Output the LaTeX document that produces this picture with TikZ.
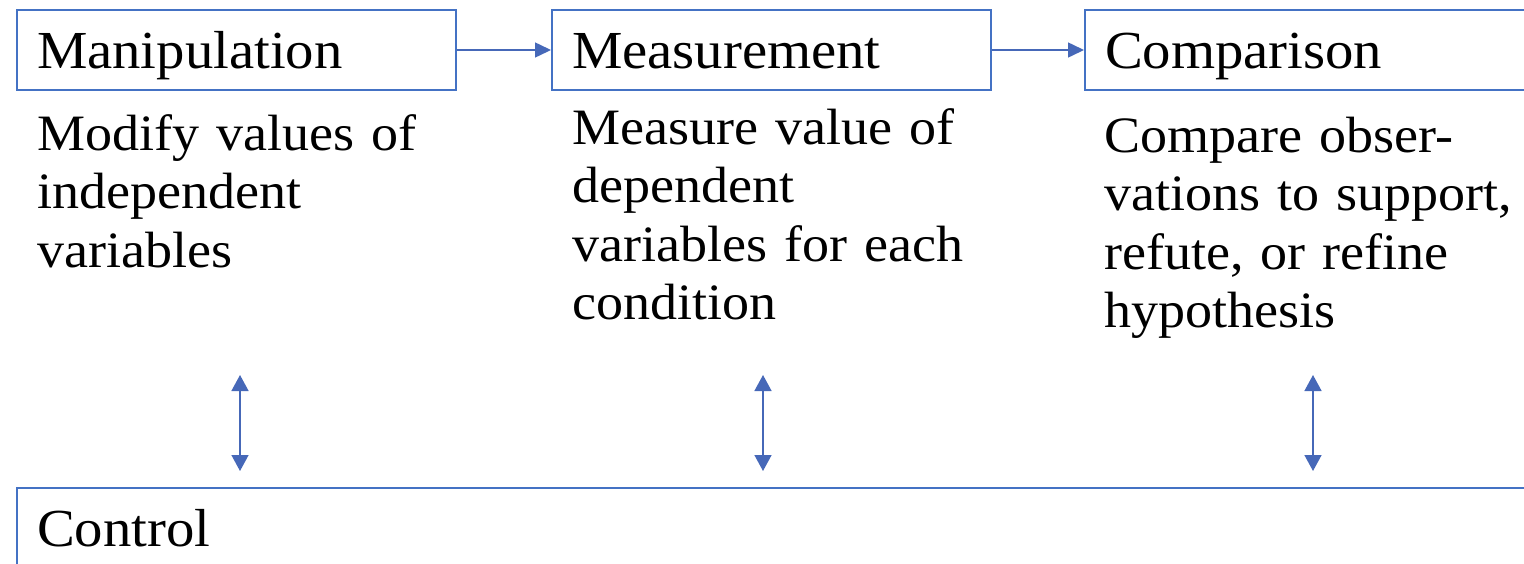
\documentclass[tikz,border=0pt]{standalone}
\usepackage{fontspec}
\setmainfont{Liberation Serif}[FakeStretch=1.06]
\usetikzlibrary{arrows.meta}
\definecolor{obl}{RGB}{68,114,196}
\definecolor{arr}{RGB}{70,104,184}
\begin{document}
\begin{tikzpicture}[x=1pt,y=-1pt,
  box/.style={draw=obl, line width=2pt, anchor=north west, minimum height=80pt,
    inner xsep=20pt, inner ysep=0pt, text width=399pt, align=left,
    font=\fontsize{53.5}{60}\selectfont, text height=40pt, text depth=4pt},
  body/.style={anchor=base west, inner sep=0pt, text width=470pt, align=left,
    font=\fontsize{51}{58.5}\selectfont},
  link/.style={draw=arr, line width=1.5pt, -{Triangle[length=16pt,width=15pt]}},
  both/.style={draw=arr, line width=1.5pt,
    {Triangle[length=16pt,width=17pt]}-{Triangle[length=16pt,width=17pt]}}]
\useasboundingbox (0,0) rectangle (1524,563);
\clip (0,0) rectangle (1524,563);

\node[box] (man) at (16,9) {Manipulation};
\node[box] (mea) at (551,9) {Measurement};
\node[box, text width=420pt] (cmp) at (1084,9) {Comparison};
\node[box, text width=1500pt] (ctl) at (16,487) {Control};

\node[body] (t1) at (37,150) {Modify values of\\independent\\variables};
\node[body] (t2) at (572,144) {Measure value of\\dependent\\variables for each\\condition};
\node[body] (t3) at (1104,152) {Compare obser-\\vations to support,\\refute, or refine\\hypothesis};

\draw[link] (man.east) -- (mea.west);
\draw[link] (mea.east) -- (cmp.west);

\coordinate (a1) at (240,375);
\coordinate (b1) at (240,471);
\coordinate (a2) at (763,375);
\coordinate (b2) at (763,471);
\coordinate (a3) at (1313,375);
\coordinate (b3) at (1313,471);
\draw[both] (a1) -- (b1);
\draw[both] (a2) -- (b2);
\draw[both] (a3) -- (b3);
\end{tikzpicture}
\end{document}
